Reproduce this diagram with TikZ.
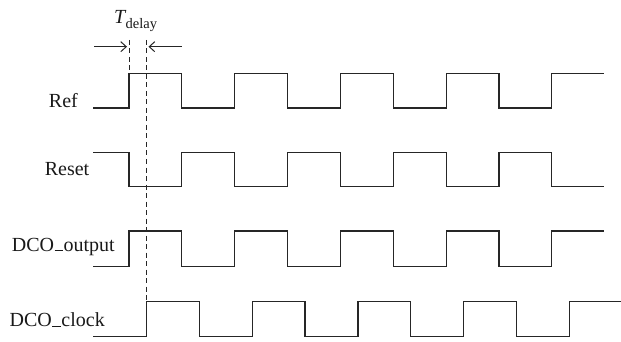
\documentclass[tikz,border=0pt]{standalone}
\usepackage{fontspec}
\setmainfont{Liberation Serif}
\usetikzlibrary{arrows.meta}
\newcommand{\lowbar}{\kern0.03em\rule{0.42em}{0.05em}\kern0.03em}

\begin{document}
\begin{tikzpicture}[x=1pt,y=-1pt,
  wave/.style={line width=1.2pt,draw=black!85},
  marker/.style={line width=1pt,draw=black!85,dash pattern=on 5pt off 3.5pt},
  gap/.style={line width=1pt,draw=black!85,-{Straight Barb[length=5.5pt,width=10pt]}},
  every node/.style={inner sep=0pt,text=black!90,font=\fontsize{20}{24}\selectfont}]
\useasboundingbox (0,0) rectangle (621,342);

% signal names
\node (ref) [anchor=base east] at (78,108) {Ref};
\node (reset) [anchor=base east] at (89.5,175.7) {Reset};
\node (dcoout) [anchor=base east] at (115,251) {DCO\lowbar output};
\node (dcoclk) [anchor=base east] at (105,326.7) {DCO\lowbar clock};

% waveforms
\draw[wave] (93,108) foreach \k [evaluate=\k as \xx using 129+52.85*\k,
  evaluate=\k as \yy using {isodd(\k) ? 108 : 73.5}] in {0,...,8} { -| (\xx,\yy) } -- (604,73.5);
\draw[wave] (93,152.3) foreach \k [evaluate=\k as \xx using 129+52.85*\k,
  evaluate=\k as \yy using {isodd(\k) ? 152.3 : 186.7}] in {0,...,8} { -| (\xx,\yy) } -- (604,186.7);
\draw[wave] (93,266.7) foreach \k [evaluate=\k as \xx using 129+52.85*\k,
  evaluate=\k as \yy using {isodd(\k) ? 266.7 : 231}] in {0,...,8} { -| (\xx,\yy) } -- (604,231);
\draw[wave] (93,336.7) foreach \k [evaluate=\k as \xx using 146.5+52.85*\k,
  evaluate=\k as \yy using {isodd(\k) ? 336.7 : 301.3}] in {0,...,8} { -| (\xx,\yy) } -- (621,301.3);

% delay markers
\coordinate (edgeref) at (129,40);
\coordinate (edgeclk) at (146.5,40);
\draw[marker] (edgeref) -- (129,73.5);
\draw[marker] (edgeclk) -- (146.5,301.3);
\coordinate (lefttail) at (94,46.7);
\coordinate (righttail) at (181.7,46.7);
\draw[gap] (lefttail) -- (127,46.7);
\draw[gap] (righttail) -- (148.5,46.7);
\node (tdelay) [anchor=base west] at (114,24)
  {\itshape T\kern0.02em\raisebox{-0.25em}{\upshape\fontsize{14.5}{15}\selectfont delay}};
\end{tikzpicture}
\end{document}
